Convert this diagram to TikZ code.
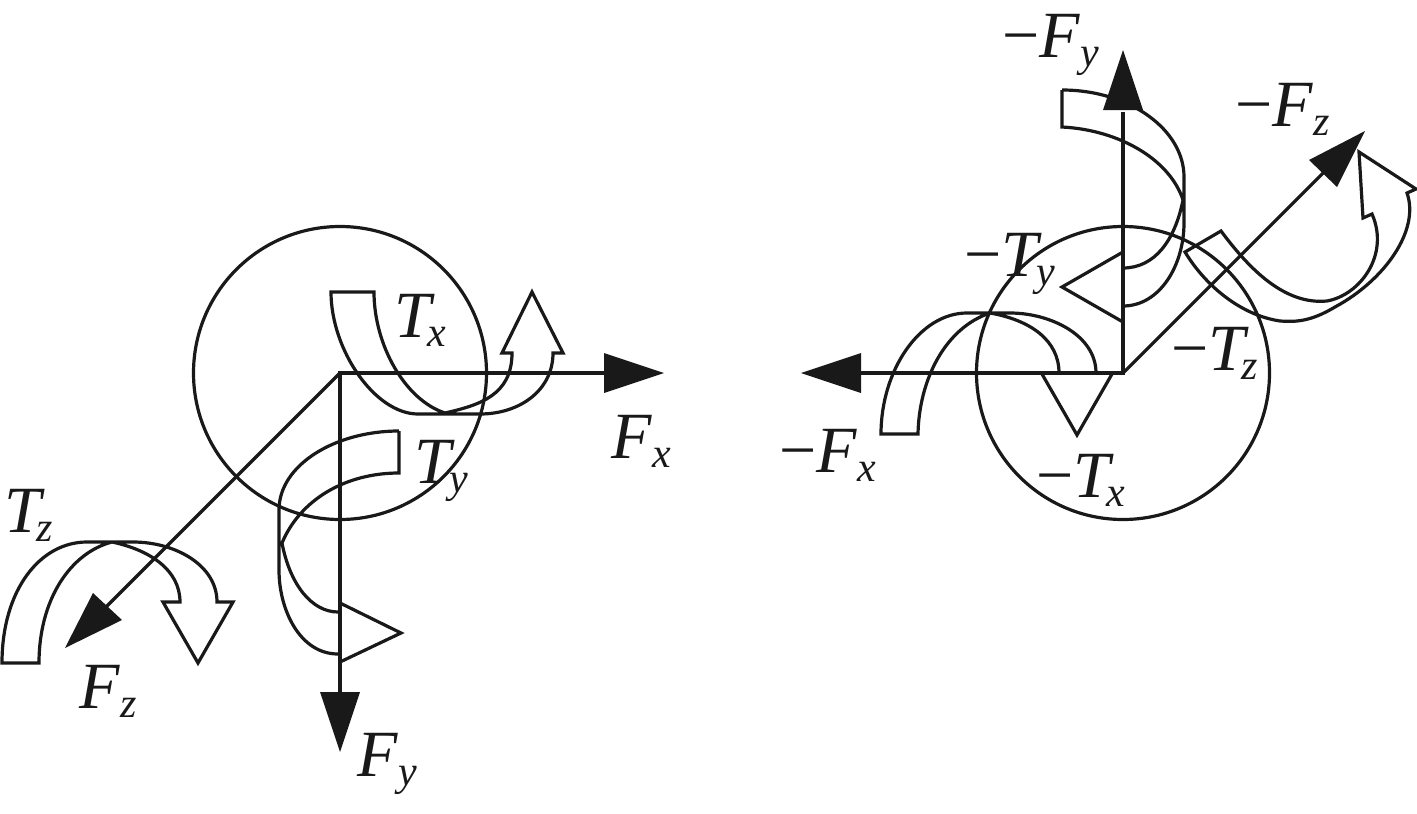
\documentclass[tikz,border=0pt]{standalone}
\usepackage{fontspec}
\setmainfont{Liberation Serif}
\newcommand{\lbl}[3][1pt]{{\fontsize{66}{66}\selectfont\itshape #2\hspace{#1}\raisebox{-9pt}{\fontsize{42}{42}\selectfont #3}}}
\newcommand{\nlbl}[3][1pt]{{\fontsize{66}{66}\selectfont \char"2212\itshape #2\hspace{#1}\raisebox{-9pt}{\fontsize{42}{42}\selectfont #3}}}
\tikzset{
  ln/.style={line width=3.2pt,black!90,line join=miter},
  solidhead/.style={fill=black!90,draw=none},
  lab/.style={anchor=base west,inner sep=0pt,outer sep=0pt,text=black!90},
}
\begin{document}
\begin{tikzpicture}[x=1pt,y=-1pt]
\useasboundingbox (0,0) rectangle (1417,814);
% left
\coordinate (O1) at (340,373);
\coordinate (X1) at (606,373);
\coordinate (Y1) at (340,694);
\coordinate (Z1) at (106,607);
\node[draw,ln,circle,minimum size=293pt,inner sep=0pt] (C1) at (O1) {};
\draw[ln] (X1) -- (O1) -- (Y1);
\draw[ln] (O1) -- (Z1);
\fill[solidhead] (604,353) -- (664,373) -- (604,393) -- cycle;
\fill[solidhead] (320,692) -- (340,752) -- (360,692) -- cycle;
\fill[solidhead] (93,593) -- (65,648) -- (122,620) -- cycle;
% Tx
\draw[ln] (331,292) -- (374,292) .. controls (374,345) and (405,400) .. (445,413) .. controls (480,405) and (512,395) .. (512,353) -- (502,353) -- (532,292) -- (563,353) -- (553,353) .. controls (553,390) and (520,414) .. (480,414) -- (418,414) .. controls (375,414) and (331,350) .. cycle;
% Ty
\draw[ln] (399,431) -- (399,473) .. controls (345,473) and (300,500) .. (282,543) .. controls (290,585) and (312,612) .. (338,612) (340,603) -- (401,633) -- (340,662) (338,654) .. controls (300,654) and (279,610) .. (279,570) -- (279,510) .. controls (279,465) and (335,431) .. (399,431);
% Tz
\draw[ln] (2,663) -- (39,663) .. controls (39,600) and (70,553) .. (112,542) .. controls (150,550) and (180,570) .. (180,602) -- (163,602) -- (198,663) -- (233,602) -- (217,602) .. controls (217,565) and (175,542) .. (133,542) -- (87,542) .. controls (40,542) and (2,590) .. cycle;
% right
\coordinate (O2) at (1123,373);
\coordinate (X2) at (859,373);
\coordinate (Y2) at (1123,112);
\coordinate (Z2) at (1325,171);
\node[draw,ln,circle,minimum size=293pt,inner sep=0pt] (C2) at (O2) {};
\draw[ln] (X2) -- (O2) -- (Y2);
\draw[ln] (O2) -- (Z2);
% -Ty
\draw[ln] (1062,90) -- (1062,127) .. controls (1120,130) and (1170,160) .. (1183,200) .. controls (1175,240) and (1155,268) .. (1123,268) (1123,252) -- (1062,287) -- (1123,322) (1123,306) .. controls (1160,306) and (1184,265) .. (1184,223) -- (1184,177) .. controls (1184,130) and (1130,90) .. (1062,90);
% -Tz
\draw[ln] (1185,252) -- (1221,231) .. controls (1250,270) and (1285,305) .. (1327,301) .. controls (1360,295) and (1390,255) .. (1372,214) -- (1363,218) -- (1359,152) -- (1416,189) -- (1407,193) .. controls (1420,230) and (1385,280) .. (1335,307) .. controls (1310,322) and (1295,322) .. (1280,321) .. controls (1240,315) and (1205,285) .. cycle;
% -Tx
\draw[ln] (1059,373) .. controls (1059,340) and (1030,320) .. (990,313) .. controls (945,328) and (919,380) .. (918,434) -- (881,434) .. controls (881,370) and (920,313) .. (967,313) -- (1010,313) .. controls (1050,313) and (1096,335) .. (1096,373);
\draw[ln] (1042,374) -- (1077,435) -- (1112,374);
\fill[solidhead] (1103,110) -- (1123,50) -- (1143,110) -- cycle;
\fill[solidhead] (1309,160) -- (1365,131) -- (1337,187) -- cycle;
\fill[solidhead] (861,353) -- (801,373) -- (861,393) -- cycle;
% labels
\node[lab] (lTx) at (394,337) {\lbl[-3pt]{T}{x}};
\node[lab] (lTy) at (414,483) {\lbl[-1pt]{T}{y}};
\node[lab] (lTz) at (5,532) {\lbl[-5pt]{T}{z}};
\node[lab] (lFx) at (611,458) {\lbl{F}{x}};
\node[lab] (lFy) at (357,776) {\lbl{F}{y}};
\node[lab] (lFz) at (79,708) {\lbl{F}{z}};
\node[lab] (lmFy) at (1002,57) {\nlbl{F}{y}};
\node[lab] (lmFz) at (1235,126) {\nlbl{F}{z}};
\node[lab] (lmTy) at (964,276) {\nlbl[-1pt]{T}{y}};
\node[lab] (lmTz) at (1171,370) {\nlbl[-3pt]{T}{z}};
\node[lab] (lmFx) at (779,472) {\nlbl{F}{x}};
\node[lab] (lmTx) at (1036,497) {\nlbl[-3pt]{T}{x}};
\end{tikzpicture}
\end{document}
